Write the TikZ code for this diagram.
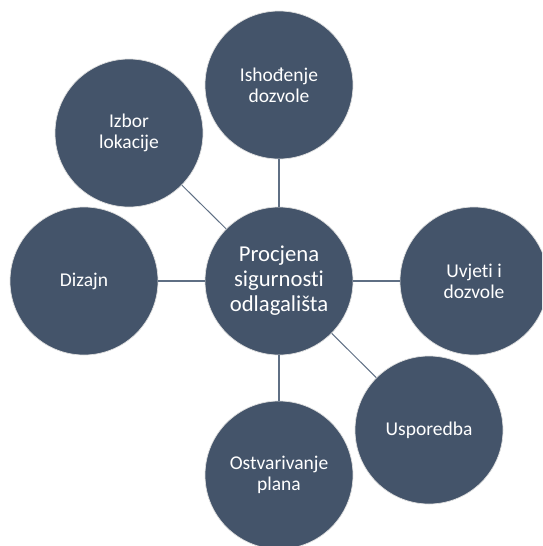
\documentclass[tikz,border=0pt]{standalone}
\usepackage{fontspec}
\setmainfont{Carlito}[Ligatures=NoCommon]
\usepackage{xcolor}
\definecolor{slate}{HTML}{44546A}
\definecolor{linkgray}{HTML}{5F6F84}
\tikzset{vertex/.style = {shape=circle,fill=slate,draw=gray!25,line width=0.7pt,minimum size=148pt,inner sep=0pt,text=white,align=center,font=\fontsize{19.5}{21}\selectfont}}
\tikzset{edge/.style = {draw=linkgray,line width=1.3pt}}

\begin{document}
\begin{tikzpicture}[x=1pt,y=-1pt]
		\useasboundingbox (0,0) rectangle (542,546);
		\clip (0,0) rectangle (542,546);
		% vertices
		\node[vertex,font=\fontsize{22.7}{25}\selectfont] (pso) at (279,281) {Procjena\\sigurnosti\\odlagališta};
		\node[vertex] (id) at (279,85)  {Ishođenje\\dozvole};
		\node[vertex] (il) at (129,133) {Izbor\\lokacije};
		\node[vertex] (di) at (84,281)  {Dizajn};
		\node[vertex] (ud) at (474,281) {Uvjeti i\\dozvole};
		\node[vertex] (us) at (429,430) {Usporedba};
		\node[vertex] (op) at (279,475) {Ostvarivanje\\plana};
		%edges
		\draw[edge] (pso) to (id);
		\draw[edge,line width=1pt] (pso) to (il);
		\draw[edge] (pso) to (di);
		\draw[edge] (pso) to (ud);
		\draw[edge,line width=1pt] (pso) to (us);
		\draw[edge] (pso) to (op);
	\end{tikzpicture}
\end{document}
